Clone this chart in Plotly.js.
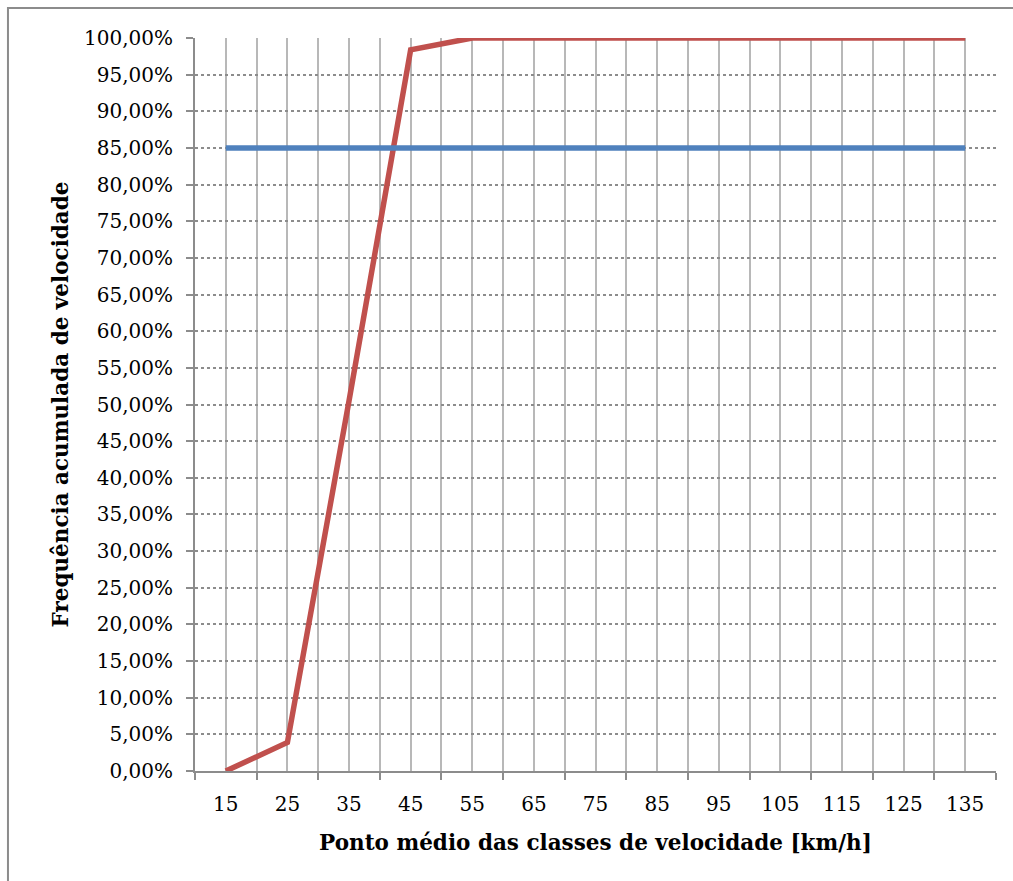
<!DOCTYPE html>
<html>
<head>
<meta charset="utf-8">
<script src="https://cdn.plot.ly/plotly-3.0.1.min.js"></script>
<style>
html,body{margin:0;padding:0;background:#fff;}
#chart{width:1013px;height:881px;}
</style>
</head>
<body>
<div id="chart"></div>
<script>
// Category midpoints (km/h)
const categories = [15, 25, 35, 45, 55, 65, 75, 85, 95, 105, 115, 125, 135];
// Cumulative frequency (fraction)
const cumulativeFreq = [0.0, 0.039, 0.505, 0.984, 1.0, 1.0, 1.0, 1.0, 1.0, 1.0, 1.0, 1.0, 1.0];
// 85th percentile reference line
const percentile85 = [0.85, 0.85, 0.85, 0.85, 0.85, 0.85, 0.85, 0.85, 0.85, 0.85, 0.85, 0.85, 0.85];
const boundaries = [10, 20, 30, 40, 50, 60, 70, 80, 90, 100, 110, 120, 130, 140];

const font = "DejaVu Serif, Liberation Serif, serif";

const traces = [
  {x: categories, y: cumulativeFreq, type: 'scatter', mode: 'lines',
   line: {color: '#C0504D', width: 5.5}, hoverinfo: 'skip', showlegend: false},
  {x: categories, y: percentile85, type: 'scatter', mode: 'lines',
   line: {color: '#4F81BD', width: 5.5}, hoverinfo: 'skip', showlegend: false}
];

const layout = {
  width: 1013, height: 881,
  margin: {l: 195, r: 17, t: 38, b: 110},
  paper_bgcolor: 'rgba(0,0,0,0)',
  plot_bgcolor: 'rgba(0,0,0,0)',
  separators: ',.',
  showlegend: false,
  font: {family: font, size: 20, color: '#000'},
  xaxis: {
    range: [10, 140],
    tickvals: categories,
    ticktext: categories.map(String),
    ticks: '',
    showgrid: true, gridcolor: '#b8b8b8', gridwidth: 2,
    zeroline: false,
    showline: true, linecolor: '#8c8c8c', linewidth: 2,
    ticklabelstandoff: 14,
    tickfont: {family: font, size: 20, color: '#000'},
    minor: {tickvals: boundaries, ticks: 'outside', ticklen: 7, tickwidth: 2, tickcolor: '#8c8c8c',
            showgrid: true, gridcolor: '#b8b8b8', gridwidth: 2},
    title: {text: '<b>Ponto médio das classes de velocidade [km/h]</b>',
            font: {family: font, size: 21.5, color: '#000'}, standoff: 20},
    fixedrange: true
  },
  yaxis: {
    range: [0, 1],
    dtick: 0.05, tick0: 0,
    tickformat: '.2%',
    ticks: 'outside', ticklen: 7, tickwidth: 2, tickcolor: '#8c8c8c',
    showgrid: true, gridcolor: '#8c8c8c', gridwidth: 2, griddash: 'dot',
    zeroline: false,
    showline: true, linecolor: '#8c8c8c', linewidth: 2,
    ticklabelstandoff: 9,
    tickfont: {family: font, size: 20, color: '#000'},
    title: {text: '<b>Frequência acumulada de velocidade</b>',
            font: {family: font, size: 21.5, color: '#000'}, standoff: 9},
    fixedrange: true
  },
  shapes: [
    {type: 'rect', xref: 'paper', yref: 'paper', x0: -0.2335, x1: 1.2, y0: -0.3, y1: 1.041,
     line: {color: '#8c8c8c', width: 2}, fillcolor: 'rgba(0,0,0,0)', layer: 'below'}
  ]
};

Plotly.newPlot('chart', traces, layout, {displayModeBar: false, staticPlot: true});
</script>
</body>
</html>
